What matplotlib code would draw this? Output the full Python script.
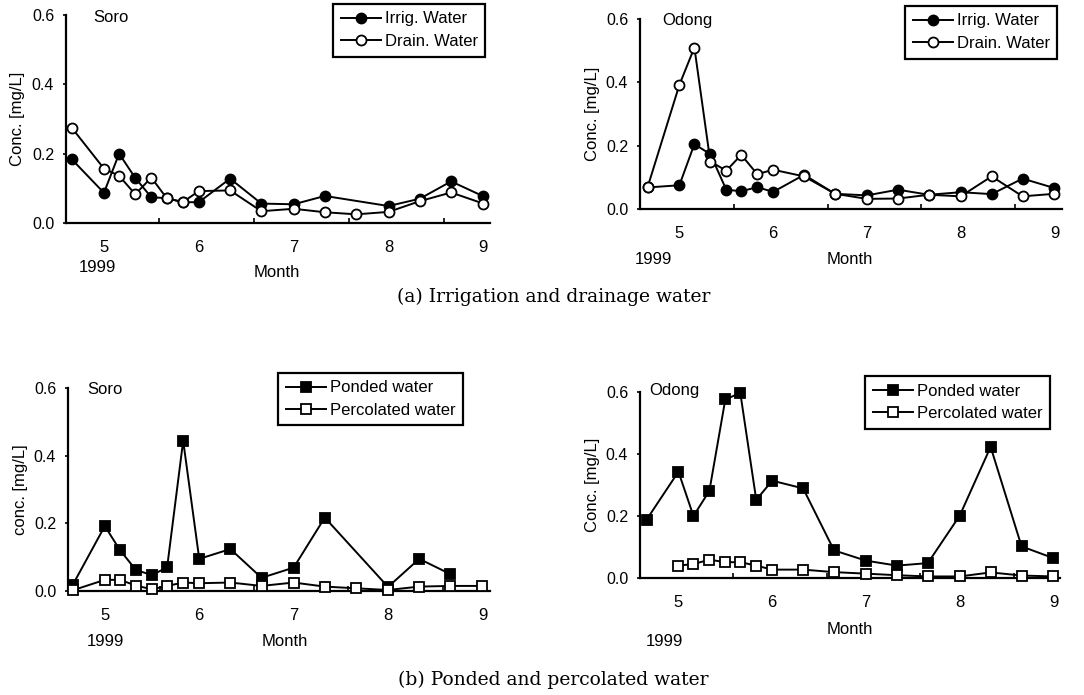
import matplotlib
matplotlib.use('Agg')
import matplotlib.pyplot as plt

# sampling dates as decimal month (1999)
months_all = [4.66, 5.0, 5.16, 5.33, 5.5, 5.66, 5.83, 6.0, 6.33, 6.66, 7.0, 7.33, 7.66, 8.0, 8.33, 8.66, 9.0]

# (a) irrigation / drainage water
soro_irrig_month = [4.66, 5.0, 5.16, 5.33, 5.5, 5.66, 5.83, 6.0, 6.33, 6.66, 7.0, 7.33, 8.0, 8.33, 8.66, 9.0]
soro_irrig = [0.184, 0.087, 0.200, 0.130, 0.074, 0.072, 0.060, 0.060, 0.128, 0.056, 0.054, 0.078, 0.049, 0.070, 0.120, 0.077]
soro_drain = [0.275, 0.157, 0.136, 0.083, 0.131, 0.072, 0.060, 0.092, 0.094, 0.034, 0.041, 0.031, 0.025, 0.032, 0.063, 0.088, 0.056]

odong_irrig = [0.068, 0.075, 0.205, 0.173, 0.061, 0.056, 0.069, 0.054, 0.108, 0.048, 0.043, 0.061, 0.045, 0.053, 0.047, 0.096, 0.066]
odong_drain = [0.068, 0.392, 0.510, 0.150, 0.121, 0.171, 0.110, 0.124, 0.103, 0.048, 0.032, 0.033, 0.045, 0.040, 0.103, 0.040, 0.048]

# (b) ponded / percolated water
soro_pond_month = [4.66, 5.0, 5.16, 5.33, 5.5, 5.66, 5.83, 6.0, 6.33, 6.66, 7.0, 7.33, 8.0, 8.33, 8.66]
soro_pond = [0.018, 0.192, 0.121, 0.062, 0.047, 0.070, 0.444, 0.095, 0.124, 0.039, 0.069, 0.217, 0.012, 0.095, 0.050]
soro_perc = [0.002, 0.033, 0.033, 0.016, 0.005, 0.015, 0.025, 0.023, 0.025, 0.015, 0.025, 0.013, 0.008, 0.003, 0.013, 0.015, 0.015]

odong_pond = [0.188, 0.343, 0.200, 0.281, 0.576, 0.597, 0.252, 0.314, 0.289, 0.089, 0.056, 0.040, 0.048, 0.201, 0.423, 0.102, 0.064]
odong_perc_month = months_all[1:]
odong_perc = [0.040, 0.045, 0.059, 0.051, 0.051, 0.040, 0.027, 0.027, 0.019, 0.014, 0.009, 0.005, 0.005, 0.018, 0.008, 0.005]

month_ticks = [5, 6, 7, 8, 9]
yticks = [0.0, 0.2, 0.4, 0.6]

W, H = 1084, 695
plt.rcParams['font.family'] = ['Liberation Sans', 'DejaVu Sans']
fig = plt.figure(figsize=(W / 100, H / 100), dpi=100)


def px(x, y):
    return x / W, 1 - y / H


def make_axes(left, right, top, bottom, xlim):
    ax = fig.add_axes([left / W, 1 - bottom / H, (right - left) / W, (bottom - top) / H])
    ax.set_xlim(*xlim)
    ax.set_ylim(0, 0.6)
    for s in ['top', 'right']:
        ax.spines[s].set_visible(False)
    for s in ['left', 'bottom']:
        ax.spines[s].set_linewidth(1.6)
    ax.set_xticks(month_ticks)
    ax.set_xticklabels([str(m) for m in month_ticks])
    ax.set_xticks([5.58, 6.58, 7.58, 8.58], minor=True)
    ax.tick_params(axis='x', which='major', length=0, pad=12.5, labelsize=12)
    ax.tick_params(axis='x', which='minor', direction='in', length=3.5, width=1.2)
    ax.set_yticks(yticks)
    ax.set_yticklabels(['%.1f' % v for v in yticks])
    ax.tick_params(axis='y', length=2.5, width=1.2, pad=6, labelsize=11.5)
    return ax


def series(ax, x, y, marker, filled, label):
    ax.plot(x, y, color='black', lw=1.4, marker=marker, ms=7.2,
            mfc='black' if filled else 'white', mec='black', mew=1.3,
            label=label, clip_on=False, zorder=3)


def legend(ax, x, y):
    fx, fy = px(x, y)
    leg = ax.legend(loc='upper left', bbox_to_anchor=(fx, fy), bbox_transform=fig.transFigure,
                    borderaxespad=0, fontsize=12, handlelength=2.4, handletextpad=0.25,
                    labelspacing=0.45, borderpad=0.45, fancybox=False, framealpha=1,
                    edgecolor='black')
    leg.get_frame().set_linewidth(1.6)


# (a) Soro
ax = make_axes(66, 490, 15, 223, (4.6, 9.07))
series(ax, soro_irrig_month, soro_irrig, 'o', True, 'Irrig. Water')
series(ax, months_all, soro_drain, 'o', False, 'Drain. Water')
legend(ax, 333, 4)
fig.text(*px(93, 17), 'Soro', fontsize=12, va='center')
fig.text(*px(18, 119), 'Conc. [mg/L]', rotation=90, fontsize=12, ha='center', va='center')
fig.text(*px(97, 268), '1999', fontsize=12, ha='center', va='center')
fig.text(*px(277, 272), 'Month', fontsize=12, ha='center', va='center')

# (a) Odong
ax = make_axes(640, 1062, 19, 209, (4.58, 9.08))
series(ax, months_all, odong_irrig, 'o', True, 'Irrig. Water')
series(ax, months_all, odong_drain, 'o', False, 'Drain. Water')
legend(ax, 905, 6)
fig.text(*px(662, 20), 'Odong', fontsize=12, va='center')
fig.text(*px(592, 114), 'Conc. [mg/L]', rotation=90, fontsize=12, ha='center', va='center')
fig.text(*px(653, 260), '1999', fontsize=12, ha='center', va='center')
fig.text(*px(850, 260), 'Month', fontsize=12, ha='center', va='center')

# (b) Soro
ax = make_axes(68, 490, 388, 591, (4.61, 9.08))
series(ax, soro_pond_month, soro_pond, 's', True, 'Ponded water')
series(ax, months_all, soro_perc, 's', False, 'Percolated water')
legend(ax, 278, 373)
fig.text(*px(87, 389), 'Soro', fontsize=12, va='center')
fig.text(*px(21, 490), 'conc. [mg/L]', rotation=90, fontsize=12, ha='center', va='center')
fig.text(*px(105, 642), '1999', fontsize=12, ha='center', va='center')
fig.text(*px(285, 642), 'Month', fontsize=12, ha='center', va='center')

# (b) Odong
ax = make_axes(640, 1060, 392, 578, (4.59, 9.07))
series(ax, months_all, odong_pond, 's', True, 'Ponded water')
series(ax, odong_perc_month, odong_perc, 's', False, 'Percolated water')
legend(ax, 865, 376)
fig.text(*px(649, 391), 'Odong', fontsize=12, va='center')
fig.text(*px(592, 485), 'Conc. [mg/L]', rotation=90, fontsize=12, ha='center', va='center')
fig.text(*px(664, 641), '1999', fontsize=12, ha='center', va='center')
fig.text(*px(850, 630), 'Month', fontsize=12, ha='center', va='center')

# captions
fig.text(*px(554, 297), '(a) Irrigation and drainage water', family='DejaVu Serif',
         fontsize=13.5, ha='center', va='center')
fig.text(*px(553, 680), '(b) Ponded and percolated water', family='DejaVu Serif',
         fontsize=13.5, ha='center', va='center')

fig.savefig('out.png', dpi=100)
